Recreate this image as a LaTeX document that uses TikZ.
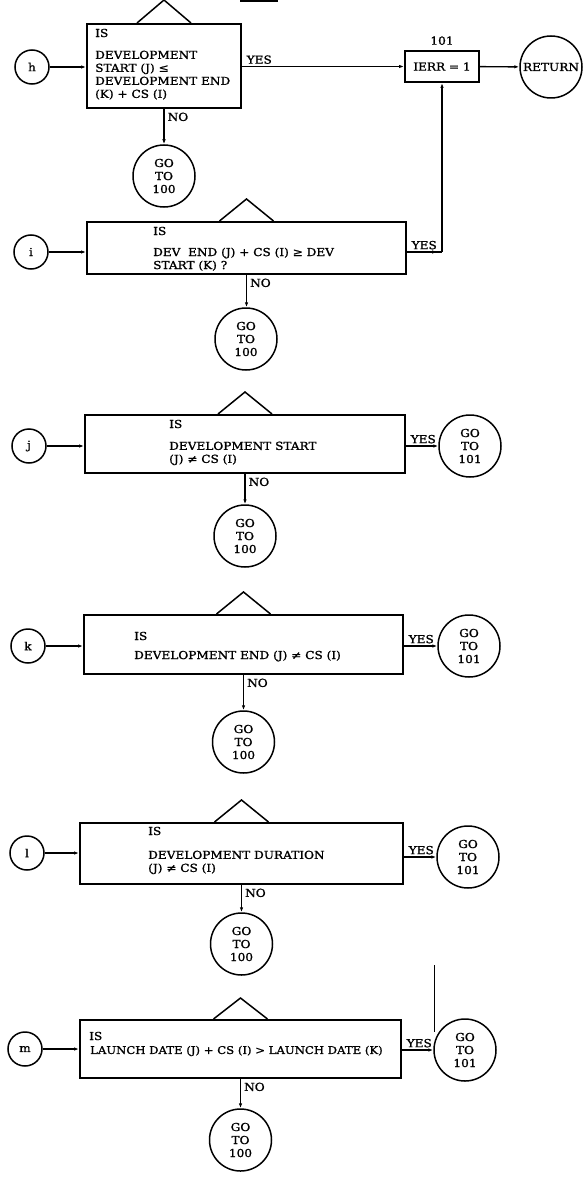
\documentclass[tikz,border=0pt]{standalone}
\usepackage{fontspec}
\setmainfont{DejaVu Serif}[FakeStretch=1.1, FakeBold=1.3]
\usetikzlibrary{arrows.meta,positioning}

\begin{document}
\begin{tikzpicture}[
        x=1pt, y=-1pt,
        every node/.style={font=\fontsize{11}{13}\selectfont, inner sep=0pt},
        testbox/.style={draw, line width=2pt},
        entry/.style={draw, circle, line width=1.5pt, minimum size=34pt},
        gotocirc/.style={draw, circle, line width=1.5pt, minimum size=62pt, align=center},
        hat/.style={line width=1.5pt},
        conn/.style={line width=1.4pt, -{Latex[length=5pt,width=3.5pt]}},
        yeslabel/.style={pos=0, anchor=south west, xshift=4pt, yshift=2pt},
        nolabel/.style={pos=0, anchor=north west, xshift=3pt, yshift=-3pt}
    ]
    \fill[white] (0,0) rectangle (582,1177);
    \useasboundingbox (0,0) rectangle (582,1177);

    % block h
    \node[entry] (hin) at (32,67) {h};
    \node[testbox, minimum width=154pt, minimum height=84pt] (hbox) at (164,66) {};
    \node[anchor=west] (hq) at (95,33) {IS};
    \node[anchor=north west, align=left] (ht) at (95,50.5) {DEVELOPMENT\\START (J) ≤\\DEVELOPMENT END\\(K) + CS (I)};
    \node[gotocirc] (hgo) at (164,176) {GO\\TO\\100};

    % error exit
    \node[testbox, minimum width=74pt, minimum height=31pt] (ierr) at (442,66.5) {IERR = 1};
    \node[above=5pt of ierr] (lbl101) {101};
    \node[gotocirc] (ret) at (551,67) {RETURN};

    % block i
    \node[entry] (iin) at (31,252) {i};
    \node[testbox, minimum width=319pt, minimum height=52pt] (ibox) at (246.5,248) {};
    \node[anchor=west] (iq) at (153,231) {IS};
    \node[anchor=north west, align=left] (it) at (153,247.5) {DEV\ \ END (J) + CS (I) ≥ DEV\\START (K) ?};
    \node[gotocirc] (igo) at (246,339) {GO\\TO\\100};
    \coordinate (icorner) at (ierr.south |- iin);

    % block j
    \node[entry] (jin) at (29,446) {j};
    \node[testbox, minimum width=320pt, minimum height=58pt] (jbox) at (245,444) {};
    \node[anchor=west] (jq) at (169,424) {IS};
    \node[anchor=north west, align=left] (jt) at (169,441.5) {DEVELOPMENT START\\(J) ≠ CS (I)};
    \node[gotocirc] (jgo) at (245,536) {GO\\TO\\100};
    \node[gotocirc] (jyes) at (470,446) {GO\\TO\\101};

    % block k
    \node[entry] (kin) at (28,646) {k};
    \node[testbox, minimum width=319pt, minimum height=59pt] (kbox) at (243.5,644.5) {};
    \node[anchor=west] (kq) at (134,636) {IS};
    \node[anchor=west] (kt) at (134,656) {DEVELOPMENT END (J) ≠ CS (I)};
    \node[gotocirc] (kgo) at (243.5,742) {GO\\TO\\100};
    \node[gotocirc] (kyes) at (469,646) {GO\\TO\\101};

    % block l
    \node[entry] (lin) at (27,853) {l};
    \node[testbox, minimum width=323pt, minimum height=61pt] (lbox) at (241.5,853.5) {};
    \node[anchor=west] (lq) at (148,831) {IS};
    \node[anchor=north west, align=left] (lt) at (148,850.5) {DEVELOPMENT DURATION\\(J) ≠ CS (I)};
    \node[gotocirc] (lgo) at (241.5,944) {GO\\TO\\100};
    \node[gotocirc] (lyes) at (468,857) {GO\\TO\\101};

    % block m
    \node[entry] (min) at (25,1049) {m};
    \node[testbox, minimum width=321pt, minimum height=58pt] (mbox) at (240.5,1049) {};
    \node[anchor=west] (mq) at (89,1036) {IS};
    \node[anchor=west, font=\fontsize{10.6}{13}\selectfont] (mt) at (90,1051) {LAUNCH DATE (J) + CS (I) > LAUNCH DATE (K)};
    \node[gotocirc] (mgo) at (240.5,1140) {GO\\TO\\100};
    \node[gotocirc] (myes) at (465,1050) {GO\\TO\\101};

    % hats on the test boxes
    \foreach \b/\h in {hbox/23,ibox/22,jbox/22,kbox/22,lbox/22,mbox/21}
        \draw[hat] ([xshift=-27pt]\b.north) -- ++(27,-\h) -- ++(27,\h);

    % entries and NO branches
    \foreach \p in {h,i,j,k,l,m} {
        \draw[conn] (\p in) -- (\p in -| \p box.west);
        \draw[conn] (\p box.south) -- node[nolabel] {NO} (\p box.south |- \p go.north);
    }

    % YES branches
    \draw[conn] (hbox.east |- ierr) -- node[yeslabel] {YES} (ierr.west);
    \draw[conn] (ierr) -- (ret);
    \draw[line width=1.4pt] (ibox.east |- icorner) -- node[yeslabel] {YES} (icorner);
    \draw[conn] (ibox.east |- icorner) -- ([xshift=-5pt]icorner);
    \draw[conn] (icorner) -- (ierr.south);
    \draw[conn] (jbox.east |- jyes) -- node[yeslabel] {YES} (jyes.west);
    \draw[conn] (kbox.east |- kyes) -- node[yeslabel] {YES} (kyes.west);
    \draw[conn] (lbox.east |- lyes) -- node[yeslabel] {YES} (lyes.west);
    \draw[conn] (mbox.east |- myes) -- node[yeslabel] {YES} (myes.west);

    % marks left on the sheet
    \draw[line width=0.6pt] (434,965) -- (434,1032);
    \draw[line width=2pt] (240,0.8) -- (278,0.8);
\end{tikzpicture}
\end{document}
